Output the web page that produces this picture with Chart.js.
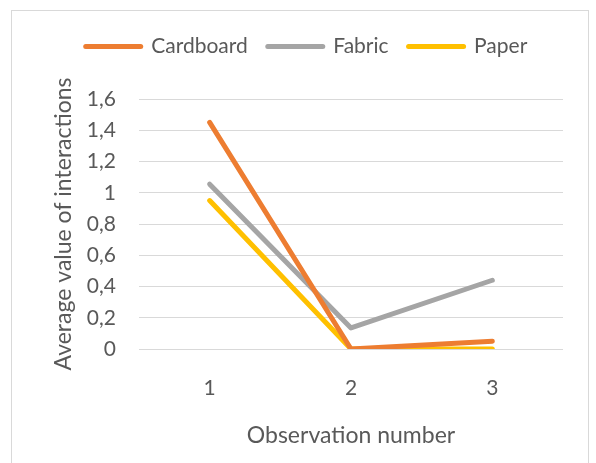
<!DOCTYPE html>
<html>
<head>
<meta charset="utf-8">
<script src="https://cdn.jsdelivr.net/npm/chart.js@4.4.0/dist/chart.umd.min.js"></script>
<style>
  html, body { margin: 0; padding: 0; background: #fff; }
  #wrap { position: relative; width: 596px; height: 463px; overflow: hidden; }
  #frame {
    position: absolute; left: 11px; top: 10px; width: 578px; height: 470px;
    border: 1px solid #d9d9d9; box-sizing: border-box;
  }
  canvas { position: absolute; left: 0; top: 0; }
</style>
</head>
<body>
<div id="wrap">
  <div id="frame"></div>
  <canvas id="chart" width="596" height="463"></canvas>
</div>
<script>
// Data
const categories = ["1", "2", "3"];
const cardboard = [1.45, 0, 0.05];
const fabric = [1.055, 0.135, 0.44];
const paper = [0.95, 0, 0];
const yTickLabels = ["0", "0,2", "0,4", "0,6", "0,8", "1", "1,2", "1,4", "1,6"];

const textColor = "#595959";
const fontFamily = "Lato, 'Open Sans', sans-serif";

// Fix legend height so the plot top lands where it should
const legendHeight = {
  id: "legendHeight",
  beforeInit(chart) {
    const fit = chart.legend.fit;
    chart.legend.fit = function () {
      fit.bind(chart.legend)();
      this.height = 83;
    };
  },
};

const ctx = document.getElementById("chart").getContext("2d");

new Chart(ctx, {
  type: "line",
  data: {
    labels: categories,
    datasets: [
      { label: "Cardboard", data: cardboard, borderColor: "#ED7D31", backgroundColor: "#ED7D31" },
      { label: "Fabric", data: fabric, borderColor: "#A5A5A5", backgroundColor: "#A5A5A5" },
      { label: "Paper", data: paper, borderColor: "#FFC000", backgroundColor: "#FFC000" },
    ],
  },
  options: {
    responsive: false,
    animation: false,
    elements: {
      line: { borderWidth: 5, tension: 0, borderCapStyle: "round", borderJoinStyle: "round" },
      point: { radius: 0 },
    },
    layout: { padding: { left: 50, right: 33, top: 16, bottom: 14 } },
    scales: {
      x: {
        offset: true,
        grid: { display: false },
        border: { display: false },
        ticks: { color: textColor, font: { family: fontFamily, size: 21 }, padding: 19 },
        title: {
          display: true,
          text: "Observation number",
          color: textColor,
          font: { family: fontFamily, size: 23 },
          padding: { top: 12, bottom: 0 },
        },
        afterFit(scale) { scale.height = 100; },
      },
      y: {
        min: 0,
        max: 1.6,
        grid: { color: "#d9d9d9", lineWidth: 1, drawTicks: false },
        border: { display: false },
        ticks: {
          stepSize: 0.2,
          color: textColor,
          font: { family: fontFamily, size: 21 },
          padding: 23,
          callback: (value, index) => yTickLabels[index],
        },
        title: {
          display: true,
          text: "Average value of interactions",
          color: textColor,
          font: { family: fontFamily, size: 23 },
          padding: { top: 0, bottom: 2 },
        },
        afterFit(scale) { scale.width = 89; },
      },
    },
    plugins: {
      legend: {
        position: "top",
        labels: {
          color: textColor,
          font: { family: fontFamily, size: 21 },
          usePointStyle: true,
          pointStyleWidth: 55,
          boxHeight: 21,
          padding: 20,
          generateLabels: (chart) =>
            Chart.defaults.plugins.legend.labels.generateLabels(chart).map((item) => ({
              ...item,
              pointStyle: "line",
              lineWidth: 5,
              lineCap: "round",
            })),
        },
      },
      tooltip: { enabled: false },
    },
  },
  plugins: [legendHeight],
});
</script>
</body>
</html>
